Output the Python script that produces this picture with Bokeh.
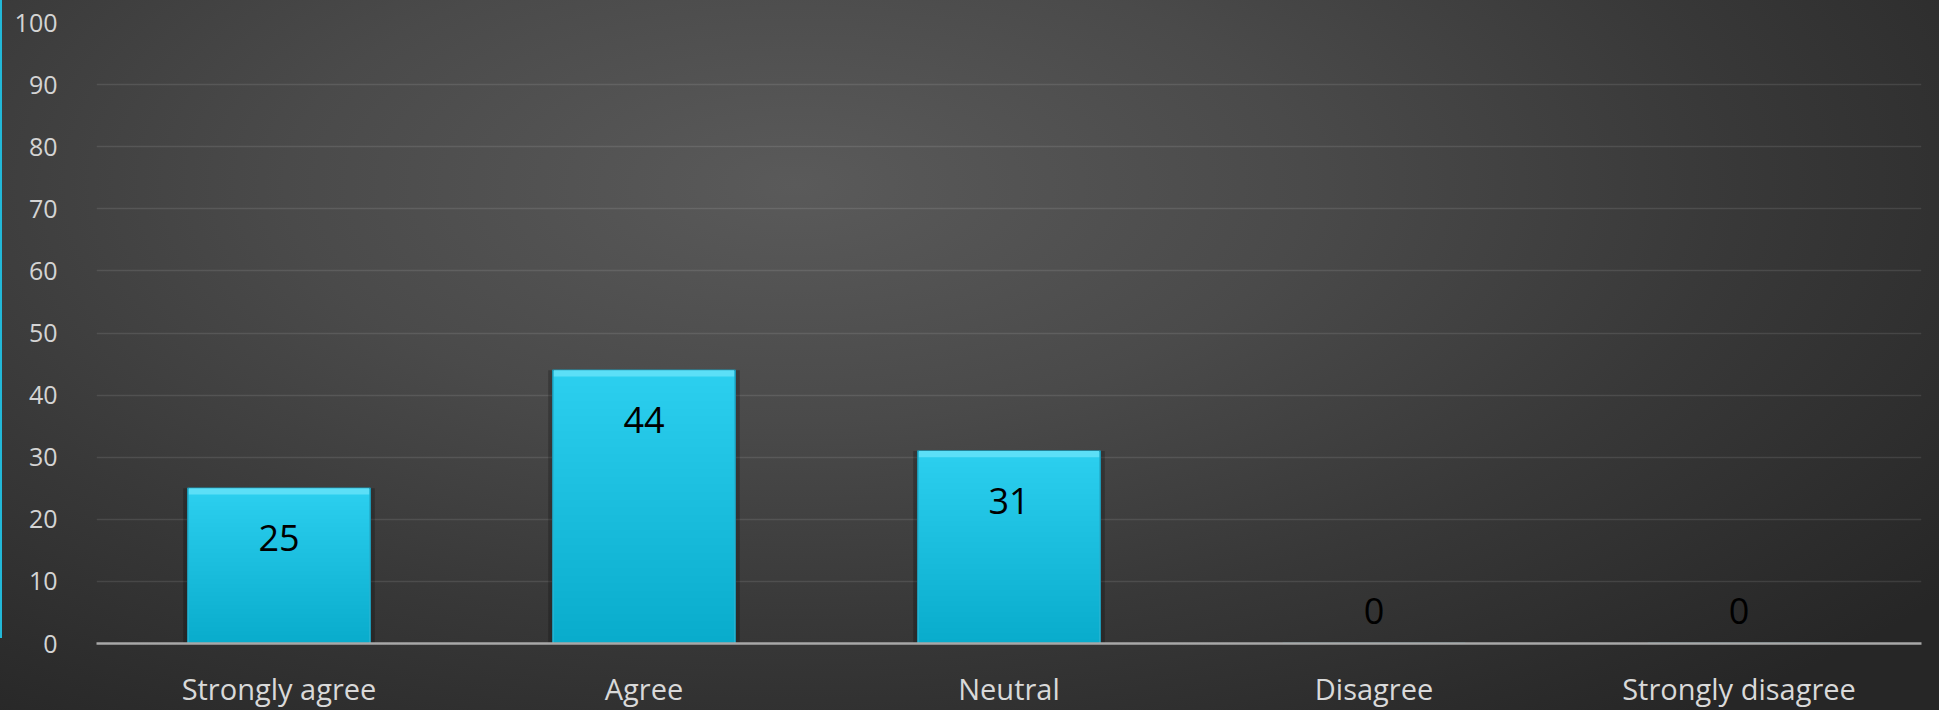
from bokeh.plotting import figure
from bokeh.models import ColumnDataSource, FactorRange, FixedTicker, GlobalInlineStyleSheet
from bokeh.core.properties import value
from bokeh.embed import file_html
from bokeh.resources import INLINE

# ---- data ----
categories = ["Strongly agree", "Agree", "Neutral", "Disagree", "Strongly disagree"]
values = [25, 44, 31, 0, 0]
y_ticks = [0, 10, 20, 30, 40, 50, 60, 70, 80, 90, 100]

W, H = 1939, 710

p = figure(
    x_range=FactorRange(*categories), y_range=(0, 100),
    width=W, height=H, output_backend="svg", toolbar_location=None,
    min_border_left=96, min_border_right=18, min_border_top=22, min_border_bottom=65,
)
p.background_fill_alpha = 0
p.border_fill_alpha = 0
p.outline_line_color = None

p.styles = {
    "background": (
        "linear-gradient(to right, #22b8d8 0px, #22b8d8 2px, transparent 2px) 0 0 / 100% 638px no-repeat, "
        "radial-gradient(ellipse 75% 95% at 41% 26%, #5a5a5a 0%, #4a4a4a 35%, #383838 65%, #2c2c2c 88%, #262626 100%)"
    )
}
p.stylesheets = [GlobalInlineStyleSheet(css="html, body { margin: 0; padding: 0; background: #2a2a2a; overflow: hidden; }")]

src = ColumnDataSource(dict(
    x=categories,
    top=values,
    label=[str(v) for v in values],
    off=[50 if v > 0 else -33 for v in values],
    bevel=[max(v - 1.0, 0) for v in values],
))

# shadow
p.vbar(x="x", top="top", bottom=0, width=0.525, source=src,
       fill_color="#000000", fill_alpha=0.22, line_color=None)
# main bar
p.vbar(x="x", top="top", bottom=0, width=0.5, source=src,
       fill_color="#2dd0f0", line_color="#1c97b3", line_width=1.5)
# vertical shading (darker toward bottom)
N = 36
for k in range(1, N + 1):
    p.vbar(x=categories, top=[v * k / N for v in values], bottom=0, width=0.494,
           fill_color="#000000", fill_alpha=0.0055, line_color=None)
# top bevel
p.vbar(x="x", top="top", bottom="bevel", width=0.494, source=src,
       fill_color="#5cdff7", line_color=None)

# data labels
p.text(x="x", y="top", text="label", y_offset="off", source=src,
       text_align="center", text_baseline="middle",
       text_font=value("Open Sans"), text_font_size="36px", text_color="#000000")

# axes
p.xaxis.axis_line_color = "#a8a8a8"
p.xaxis.axis_line_width = 2.5
p.xaxis.major_tick_line_color = None
p.xaxis.minor_tick_line_color = None
p.xaxis.major_label_text_color = "#d9d9d9"
p.xaxis.major_label_text_font = "Open Sans"
p.xaxis.major_label_text_font_size = "29px"
p.xaxis.major_label_standoff = 19

p.yaxis.ticker = FixedTicker(ticks=y_ticks)
p.yaxis.axis_line_color = None
p.yaxis.major_tick_line_color = None
p.yaxis.minor_tick_line_color = None
p.yaxis.major_label_text_color = "#d4d4d4"
p.yaxis.major_label_text_font = "Open Sans"
p.yaxis.major_label_text_font_size = "25px"
p.yaxis.major_label_standoff = 33

p.xgrid.grid_line_color = None
p.ygrid.ticker = FixedTicker(ticks=y_ticks)
p.ygrid.grid_line_color = "#ffffff"
p.ygrid.grid_line_alpha = 0.1
p.ygrid.grid_line_width = 1.5

open("out.html", "w").write(file_html(p, INLINE))
